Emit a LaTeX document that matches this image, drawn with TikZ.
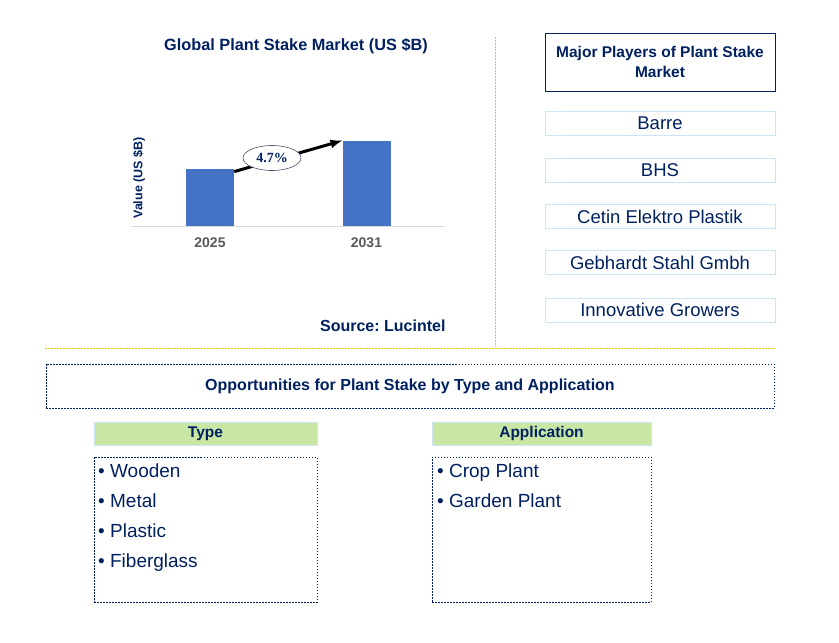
\documentclass[tikz,border=0pt]{standalone}
\usepackage{fontspec}
\setmainfont{Liberation Sans}
\newfontfamily\serifnum{Liberation Serif}
\usetikzlibrary{shapes.geometric}
\frenchspacing

\definecolor{navy}{RGB}{0,32,96}
\definecolor{barblue}{RGB}{68,114,196}
\definecolor{gold}{RGB}{255,192,0}
\definecolor{paleblue}{RGB}{205,228,242}
\definecolor{palegreen}{RGB}{200,230,164}
\definecolor{axisgray}{RGB}{217,217,217}
\definecolor{yeargray}{RGB}{89,89,89}

\tikzset{
  bar/.style={fill=barblue, anchor=south, minimum width=48pt, inner sep=0pt},
  divider/.style={gold, line width=0.9pt, dash pattern=on 2pt off 1pt},
  player/.style={draw=paleblue, line width=0.8pt, minimum width=230pt, minimum height=24pt,
    inner sep=0pt, text=navy, font=\fontsize{18.5}{20}\selectfont},
  header/.style={fill=palegreen, draw=paleblue, line width=0.8pt, minimum height=23pt,
    inner sep=0pt, text=navy, font=\bfseries\fontsize{15.5}{18}\selectfont},
  listbox/.style={draw=navy, line width=0.8pt, dash pattern=on 1.5pt off 1.5pt,
    minimum height=145pt, inner sep=0pt},
  listitem/.style={anchor=base west, inner sep=0pt, text=navy, font=\fontsize{19}{22}\selectfont}
}

\begin{document}
\begin{tikzpicture}[x=1pt, y=-1pt]
  \useasboundingbox (0,0) rectangle (839,643);

  % Chart side
  \node[text=navy, font=\bfseries\fontsize{16.3}{18}\selectfont] (title) at (296,46) {Global Plant Stake Market (US \$B)};
  \draw[axisgray, line width=1pt] (132,226) -- (444,226);
  \node[bar, minimum height=57pt] (bar1) at (210,226) {};
  \node[bar, minimum height=85pt] (bar2) at (366.5,226) {};
  \node[text=yeargray, font=\bfseries\fontsize{14}{16}\selectfont] (y2025) at (210,243) {2025};
  \node[text=yeargray, font=\bfseries\fontsize{14}{16}\selectfont] (y2031) at (366.5,243) {2031};
  \node[rotate=90, text=navy, font=\bfseries\fontsize{12.5}{14}\selectfont] (ylabel) at (139,178) {Value (US \$B)};

  % Growth arrow with the rate on top
  \draw[-latex, line width=3pt] ([yshift=-3pt]bar1.north east) -- (bar2.north west);
  \node[ellipse, draw={rgb,255:red,68;green,84;blue,106}, line width=0.6pt, fill=white,
    minimum width=58pt, minimum height=25pt, inner sep=0pt, text=navy,
    font=\serifnum\bfseries\fontsize{14}{16}\selectfont] (cagr) at (272,158) {4.7\%};

  \node[anchor=east, text=navy, font=\bfseries\fontsize{16}{18}\selectfont] (source) at (449,326) {Source: Lucintel};

  % Dividers
  \draw[divider] (495,37) -- (495,347);
  \draw[divider] (45,348) -- (775,348);

  % Major players
  \node[draw=navy, line width=1pt, minimum width=230pt, minimum height=58pt, inner sep=0pt,
    align=center, text=navy, font=\bfseries\fontsize{15.5}{20}\selectfont] (players) at (660,62)
    {Major Players of Plant Stake\\Market};
  \node[player] (barre) at (660,123.5) {Barre};
  \node[player] (bhs) at (660,170.5) {BHS};
  \node[player] (cetin) at (660,216.5) {Cetin Elektro Plastik};
  \node[player] (gebhardt) at (660,262.5) {Gebhardt Stahl Gmbh};
  \node[player] (innovative) at (660,310) {Innovative Growers};

  % Opportunities
  \node[draw=navy, line width=0.8pt, dash pattern=on 1.5pt off 1.5pt, minimum width=728pt,
    minimum height=44pt, inner sep=0pt, text=navy, font=\bfseries\fontsize{16}{18}\selectfont]
    (opps) at (410,386) {Opportunities for Plant Stake by Type and Application};

  \node[header, minimum width=223pt] (type) at (205.5,433.5) {Type};
  \node[header, minimum width=219pt] (application) at (541.5,433.5) {Application};
  \node[listbox, minimum width=223pt] (typelist) at (205.5,529.5) {};
  \node[listbox, minimum width=219pt] (applist) at (541.5,529.5) {};

  \foreach \kind [count=\i] in {Wooden, Metal, Plastic, Fiberglass}
    \node[listitem] (type\i) at (98,477+30*\i-30) {\textbullet\ \kind};
  \foreach \kind [count=\i] in {Crop Plant, Garden Plant}
    \node[listitem] (app\i) at (437,477+30*\i-30) {\textbullet\ \kind};
\end{tikzpicture}
\end{document}
